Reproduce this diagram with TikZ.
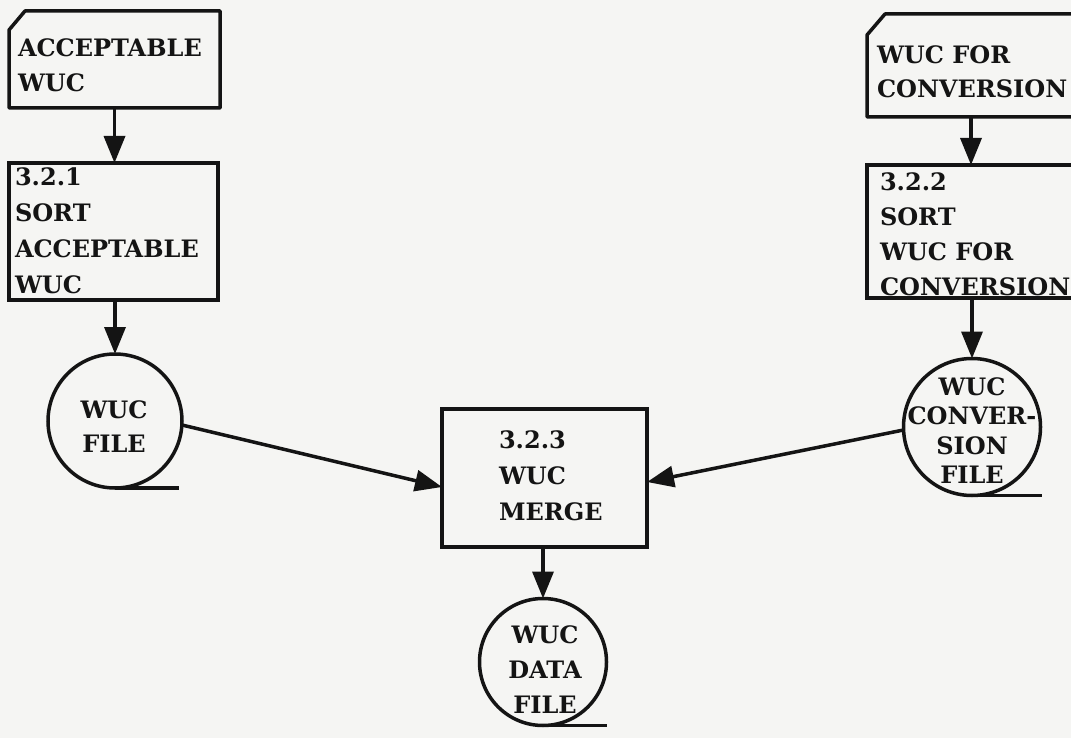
\documentclass[tikz,border=0pt]{standalone}
\usepackage{fontspec}
\usetikzlibrary{arrows.meta,shapes.geometric}
\newfontfamily\lblfont{DejaVu Serif}
\definecolor{paper}{HTML}{F5F5F3}
\definecolor{ink}{HTML}{141414}
\begin{document}
\begin{tikzpicture}[x=1pt,y=-1pt,
  every node/.style={inner sep=0pt, outer sep=0pt},
  procbox/.style={draw=ink, line width=3.5pt, anchor=north west},
  cardbox/.style={anchor=north west},
  cardline/.style={draw=ink, line width=3.5pt, line join=round},
  store/.style={draw=ink, line width=3.5pt, circle},
  tail/.style={draw=ink, line width=3.5pt},
  flow/.style={draw=ink, line width=3.5pt, -{Triangle[length=27pt,width=21pt]}},
  lbl/.style={text=ink, font={\lblfont\bfseries\fontsize{24}{35}\selectfont}},
  lblleft/.style={lbl, align=left, anchor=north west},
  lblmid/.style={lbl, align=center, anchor=north}]
  \fill[paper] (0,0) rectangle (1071,738);
  \useasboundingbox (0,0) rectangle (1071,738);

  % input cards with a cut corner
  \node[cardbox, minimum width=211pt, minimum height=97pt] (cardA) at (9,11) {};
  \draw[cardline]
    (cardA.south west) -- ([yshift=-19pt]cardA.north west)
    -- ([xshift=16pt]cardA.north west) -- (cardA.north east)
    -- (cardA.south east) -- cycle;
  \node[cardbox, minimum width=208pt, minimum height=103pt] (cardB) at (867,14) {};
  \draw[cardline]
    (cardB.south west) -- ([yshift=-21pt]cardB.north west)
    -- ([xshift=18pt]cardB.north west) -- (cardB.north east)
    -- (cardB.south east) -- cycle;

  % process boxes
  \node[procbox, minimum width=209pt, minimum height=137pt] (sortA) at (9,163) {};
  \node[procbox, minimum width=208pt, minimum height=133pt] (sortB) at (867,165) {};
  \node[procbox, minimum width=205pt, minimum height=138pt] (merge) at (442,409) {};

  % files
  \node[store, minimum size=134pt] (fileA) at (115,421) {};
  \node[store, minimum size=137pt] (fileB) at (972,427) {};
  \node[store, minimum size=127pt] (fileD) at (543,662) {};
  \draw[tail] (fileA.south) -- ++(64,0);
  \draw[tail] (fileB.south) -- ++(70,0);
  \draw[tail] (fileD.south) -- ++(64,0);

  % texts
  \node[lblleft] (tA) at (18,38.5) {ACCEPTABLE\\WUC};
  \node[lblleft, font={\lblfont\bfseries\fontsize{24}{34}\selectfont}] (tB) at (877,45.5) {WUC FOR\\CONVERSION};
  \node[lblleft, font={\lblfont\bfseries\fontsize{24}{36}\selectfont}] (tSA) at (15,167.5) {3.2.1\\SORT\\ACCEPTABLE\\WUC};
  \node[lblleft] (tSB) at (880,172.5) {3.2.2\\SORT\\WUC FOR\\CONVERSION};
  \node[lblleft, font={\lblfont\bfseries\fontsize{24}{36}\selectfont}] (tM) at (499,430.5) {3.2.3\\WUC\\MERGE};
  \node[lblmid, font={\lblfont\bfseries\fontsize{24}{34}\selectfont}] (tFA) at (114,400.5) {WUC\\FILE};
  \node[lblmid, font={\lblfont\bfseries\fontsize{24}{29.5}\selectfont}] (tFB) at (972,377.5) {WUC\\CONVER-\\SION\\FILE};
  \node[lblmid] (tFD) at (545,625.5) {WUC\\DATA\\FILE};

  % flows
  \draw[flow] (cardA.south) -- (cardA.south |- sortA.north);
  \draw[flow] (cardB.south) -- (cardB.south |- sortB.north);
  \draw[flow] (fileA.north |- sortA.south) -- (fileA.north);
  \draw[flow] (fileB.north |- sortB.south) -- (fileB.north);
  \draw[flow] ([yshift=-4pt]fileA.east) -- ([yshift=-9pt]merge.west);
  \draw[flow] ([yshift=-3pt]fileB.west) -- ([yshift=-4pt]merge.east);
  \draw[flow] (fileD.north |- merge.south) -- (fileD.north);
\end{tikzpicture}
\end{document}
